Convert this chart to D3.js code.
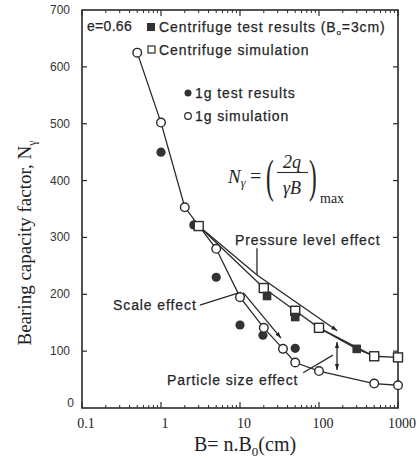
<!DOCTYPE html>
<html><head><meta charset="utf-8">
<script src="https://cdn.jsdelivr.net/npm/d3@7"></script>
<style>
body{margin:0;background:#fff}
.lbl{font-family:"Liberation Sans",Arial,sans-serif;font-size:14px;fill:#262626;letter-spacing:0.9px;stroke:#262626;stroke-width:0.25px}
.tick{font-family:"Liberation Sans",Arial,sans-serif;font-size:12px;fill:#333}
.ser{font-family:"Liberation Serif","Times New Roman",serif;fill:#222}
</style>
</head><body><div id="chart"></div>
<script>
// values (B in cm, N gamma)
var sim1g = [[0.5,625],[1,502],[2,353],[5,280],[10,195],[20,141],[35,104],[50,80],[100,65],[500,43],[1000,40]];
var simCentrifuge = [[3,320],[20,211],[50,171],[100,141],[500,91],[1000,89]];
var test1g = [[1,450],[2.6,322],[5,230],[10,146],[19.5,128],[50,105]];
var testCentrifuge = [[22,197],[50,160],[300,104]];
var xTicks = [0.1,1,10,100,1000];
var xTickLabels = ["0.1","1","10","100","1000"];
var yTicks = [0,100,200,300,400,500,600,700];

// annotation paths, data units
var pressureLine = [[3,320],[16.4,234],[170,136]];
var pressureLeader = [[16.4,281],[16.4,234]];
var scaleLeader = [[3.1,181],[10.3,204]];
var scaleArrow = [[11,203],[33,123]];
var particleLeader = [[63,62],[150,93]];
var particleArrow = [[169,67],[169,116]];

var W = 418, H = 459;
var svg = d3.select("#chart").append("svg").attr("width", W).attr("height", H);

var x = d3.scaleLog().domain([0.1,1000]).range([82,398]);
var y = d3.scaleLinear().domain([0,700]).range([408,10]);

var defs = svg.append("defs");
defs.append("marker").attr("id","arr").attr("viewBox","0 0 10 10")
  .attr("refX",10).attr("refY",5).attr("markerWidth",10).attr("markerHeight",6)
  .attr("markerUnits","userSpaceOnUse").attr("orient","auto-start-reverse")
  .append("path").attr("d","M0,1.5L10,5L0,8.5Z").attr("fill","#222");

var ink = "#2a2a2a";

// frame
svg.append("rect").attr("x",x(0.1)).attr("y",y(700))
  .attr("width",x(1000)-x(0.1)).attr("height",y(0)-y(700))
  .attr("fill","none").attr("stroke",ink).attr("stroke-width",1.6);

// x ticks, log minor ticks top and bottom
var minor = [];
[0.1,1,10,100].forEach(function(d){ for (var k=2;k<10;k++) minor.push(d*k); });
[y(0), y(700)].forEach(function(yy, i){
  var dir = i === 0 ? -1 : 1;
  svg.selectAll(null).data(minor).enter().append("line")
    .attr("x1",function(d){return x(d);}).attr("x2",function(d){return x(d);})
    .attr("y1",yy).attr("y2",yy+dir*3).attr("stroke",ink).attr("stroke-width",1);
  svg.selectAll(null).data(xTicks).enter().append("line")
    .attr("x1",function(d){return x(d);}).attr("x2",function(d){return x(d);})
    .attr("y1",yy).attr("y2",yy+dir*6).attr("stroke",ink).attr("stroke-width",1.2);
});
svg.selectAll(null).data(xTicks).enter().append("text")
  .attr("class","ser").attr("font-size",14).attr("text-anchor","middle")
  .attr("x",function(d){return x(d)+4;}).attr("y",428)
  .text(function(d,i){return xTickLabels[i];});

// y ticks left and right
[x(0.1), x(1000)].forEach(function(xx, i){
  var dir = i === 0 ? 1 : -1;
  svg.selectAll(null).data(yTicks.slice(1,7)).enter().append("line")
    .attr("x1",xx).attr("x2",xx+dir*5)
    .attr("y1",function(d){return y(d);}).attr("y2",function(d){return y(d);})
    .attr("stroke",ink).attr("stroke-width",1.2);
});
svg.selectAll(null).data(yTicks).enter().append("text")
  .attr("class","tick").attr("text-anchor","end")
  .attr("x",function(d){return d === 0 ? 74 : 70;})
  .attr("y",function(d){return y(d) + (d === 0 ? -1 : 4);})
  .text(function(d){return d;});

// axis titles
var yt = svg.append("text").attr("class","ser").attr("font-size",19)
  .attr("text-anchor","middle").attr("transform","translate(31,243) rotate(-90)");
yt.append("tspan").text("Bearing  capacity  factor,  N");
yt.append("tspan").attr("font-size",12).attr("dy",5).text("\u03b3");

var xt = svg.append("text").attr("class","ser").attr("font-size",20)
  .attr("text-anchor","middle").attr("x",245).attr("y",451);
xt.append("tspan").text("B= n.B");
xt.append("tspan").attr("font-size",13).attr("dy",5).text("0");
xt.append("tspan").attr("dy",-5).text("(cm)");

// curves
var line = d3.line().x(function(d){return x(d[0]);}).y(function(d){return y(d[1]);});
function curve(data, withArrow) {
  var p = svg.append("path").datum(data).attr("d", line)
    .attr("fill","none").attr("stroke",ink).attr("stroke-width",1.3);
  if (withArrow) p.attr("marker-end","url(#arr)");
  return p;
}
curve(sim1g);
curve(simCentrifuge);
curve([simCentrifuge[4], testCentrifuge[2], simCentrifuge[3]]);
curve(pressureLine, true);
curve(pressureLeader);
curve(scaleLeader);
curve(scaleArrow, true);
curve(particleLeader);
curve(particleArrow, true).attr("marker-start","url(#arr)");

// markers
svg.selectAll(null).data(test1g).enter().append("circle")
  .attr("cx",function(d){return x(d[0]);}).attr("cy",function(d){return y(d[1]);})
  .attr("r",4.6).attr("fill","#333");
svg.selectAll(null).data(simCentrifuge).enter().append("rect")
  .attr("x",function(d){return x(d[0])-4.5;}).attr("y",function(d){return y(d[1])-4.5;})
  .attr("width",9).attr("height",9).attr("fill","#fff").attr("stroke",ink).attr("stroke-width",1.4);
svg.selectAll(null).data(testCentrifuge).enter().append("rect")
  .attr("x",function(d){return x(d[0])-4.3;}).attr("y",function(d){return y(d[1])-4.3;})
  .attr("width",8.6).attr("height",8.6).attr("fill","#333");
svg.selectAll(null).data(sim1g).enter().append("circle")
  .attr("cx",function(d){return x(d[0]);}).attr("cy",function(d){return y(d[1]);})
  .attr("r",4.3).attr("fill","#fff").attr("stroke",ink).attr("stroke-width",1.4);

// legend
svg.append("text").attr("class","lbl").attr("x",87).attr("y",31).style("letter-spacing","0.3px").text("e=0.66");
svg.append("rect").attr("x",147).attr("y",23).attr("width",8).attr("height",8).attr("fill","#333");
var l1 = svg.append("text").attr("class","lbl").attr("x",159).attr("y",32);
l1.append("tspan").text("Centrifuge test results (B");
l1.append("tspan").attr("font-size",8).attr("dy",3).text("o");
l1.append("tspan").attr("dy",-3).text("=3cm)");
svg.append("rect").attr("x",148).attr("y",46).attr("width",7).attr("height",7)
  .attr("fill","#fff").attr("stroke",ink).attr("stroke-width",1.2);
svg.append("text").attr("class","lbl").attr("x",159).attr("y",55).text("Centrifuge simulation");
svg.append("circle").attr("cx",188).attr("cy",93).attr("r",3.5).attr("fill","#333");
svg.append("text").attr("class","lbl").attr("x",195).attr("y",98).text("1g test results");
svg.append("circle").attr("cx",188).attr("cy",116).attr("r",3.3)
  .attr("fill","#fff").attr("stroke",ink).attr("stroke-width",1.2);
svg.append("text").attr("class","lbl").attr("x",195).attr("y",121).text("1g simulation");

// formula N_gamma = (2q / gamma B)_max
var f = svg.append("g").attr("class","ser");
var fn = f.append("text").attr("x",228).attr("y",183).attr("font-size",19).attr("font-style","italic");
fn.append("tspan").text("N");
fn.append("tspan").attr("font-size",12).attr("dy",4).text("\u03b3");
f.append("text").attr("x",250).attr("y",183).attr("font-size",20).text("=");
function paren(px, ch) {
  f.append("text").attr("x",px).attr("y",192).attr("font-size",46)
    .attr("transform","translate("+px+",192) scale(0.5,1) translate("+(-px)+",-192)").text(ch);
}
paren(266, "(");
paren(309, ")");
f.append("text").attr("x",292).attr("y",168).attr("font-size",18).attr("font-style","italic")
  .attr("text-anchor","middle").text("2q");
f.append("line").attr("x1",277).attr("x2",308).attr("y1",172.5).attr("y2",172.5)
  .attr("stroke",ink).attr("stroke-width",1.1);
f.append("text").attr("x",292).attr("y",194).attr("font-size",18).attr("font-style","italic")
  .attr("text-anchor","middle").text("\u03b3B");
f.append("text").attr("x",320).attr("y",203).attr("font-size",14).text("max");

// annotation labels
svg.append("text").attr("class","lbl").attr("x",235).attr("y",245).text("Pressure level effect");
svg.append("text").attr("class","lbl").attr("x",113).attr("y",310).text("Scale effect");
svg.append("text").attr("class","lbl").attr("x",167).attr("y",385).text("Particle size effect");
</script>
</body></html>
